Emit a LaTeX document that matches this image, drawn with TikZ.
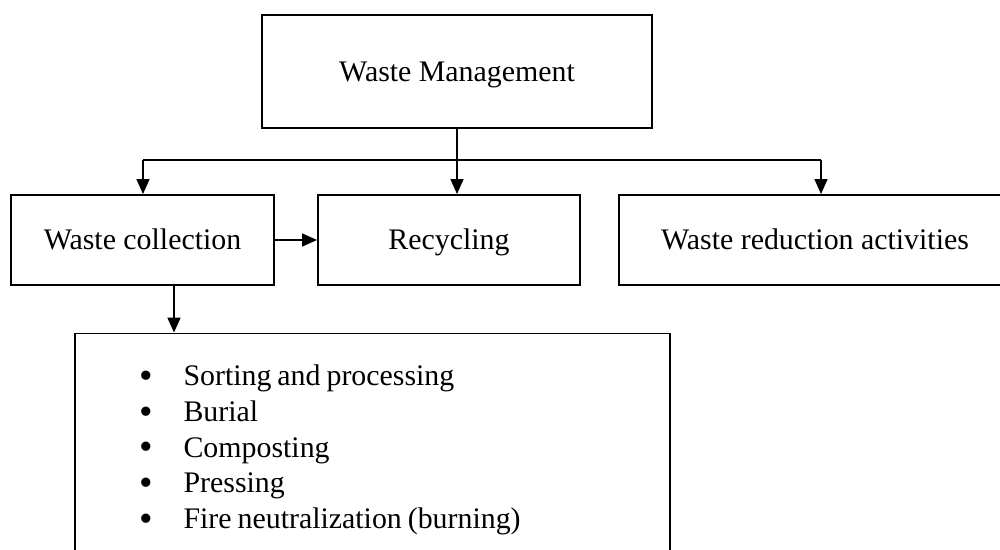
\documentclass[tikz,border=0pt]{standalone}
\usepackage{fontspec}
\setmainfont{Liberation Serif}
\usetikzlibrary{arrows.meta}
\tikzstyle{box} = [draw=black,line width=1.1pt,font=\fontsize{17}{20}\selectfont,text height=13pt,text depth=2pt]
\tikzstyle{listbox} = [draw=black,line width=1.1pt,align=left,font=\fontsize{17}{20.3}\selectfont]
\tikzstyle{arrow} = [line width=0.9pt,-{Triangle[length=0.3cm,width=0.26cm]}]
\newcommand{\blt}{\raisebox{-1.6pt}{\fontsize{22}{20}\selectfont\textbullet}\hspace{0.62cm}}
\newcommand{\tightsp}{\spaceskip=0.2em\relax}

\begin{document}
\begin{tikzpicture}[x=0.02cm,y=-0.02cm]
    \useasboundingbox (0,0) rectangle (1000,550);
    \clip (0,0) rectangle (1000,550);
    \node[box,minimum width=7.8cm,minimum height=2.26cm] (wm) at (457,71.5) {Waste Management};
    \node[box,minimum width=5.26cm,minimum height=1.8cm] (wc) at (142.5,240) {Waste collection};
    \node[box,minimum width=5.24cm,minimum height=1.8cm] (rc) at (449,240) {Recycling};
    \node[box,minimum width=7.84cm,minimum height=1.8cm] (wr) at (815,240) {Waste reduction activities};
    \node[listbox,minimum width=11.9cm,minimum height=4.66cm,text width=9.34cm,inner xsep=1.28cm] (list) at (372.5,450)
        {\tightsp\blt Sorting and processing\\
         \blt Burial\\
         \blt Composting\\
         \blt Pressing\\
         \blt Fire neutralization (burning)};

    \coordinate (hl) at (143,160);
    \coordinate (hr) at (821,160);
    \coordinate (wcdown) at ([xshift=0.63cm]wc.south);

    \draw[arrow] (wm.south) -- (wm.south |- rc.north);
    \draw[line width=0.9pt] (hl) -- (hr);
    \draw[arrow] (hl) -- (hl |- wc.north);
    \draw[arrow] (hr) -- (hr |- wr.north);
    \draw[arrow] (wc) -- (rc);
    \draw[arrow] (wcdown) -- (wcdown |- list.north);
\end{tikzpicture}
\end{document}
